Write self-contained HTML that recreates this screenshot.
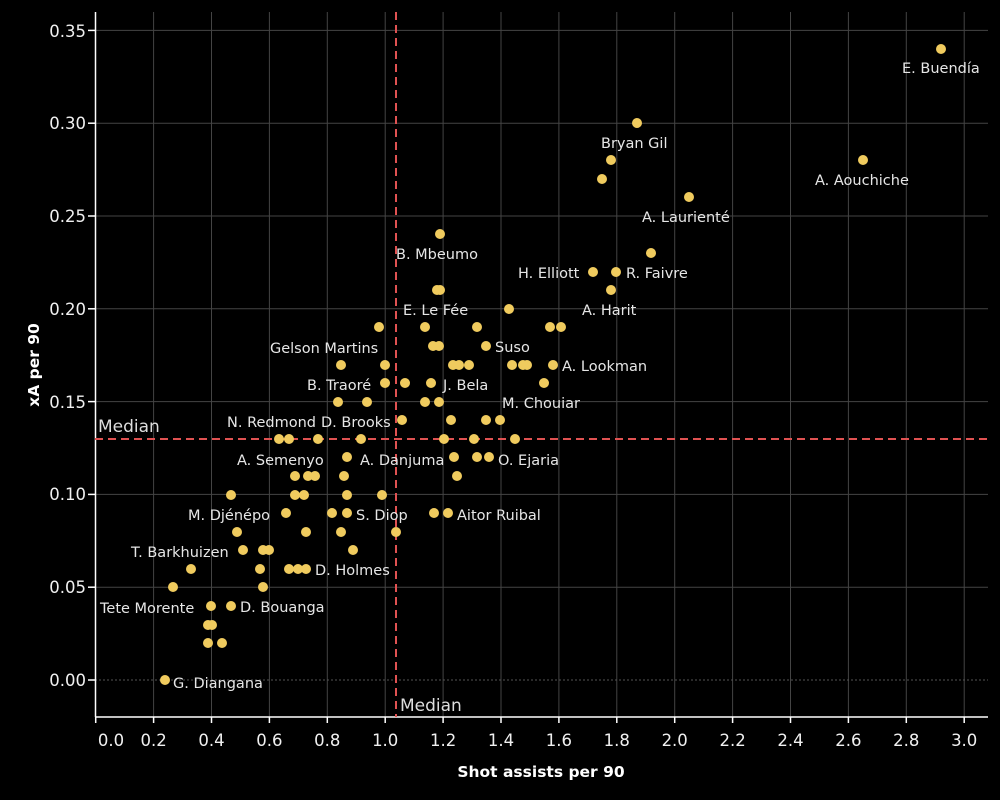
<!DOCTYPE html>
<html><head><meta charset="utf-8"><style>
html,body{margin:0;padding:0;background:#000;}
svg{display:block;font-family:"DejaVu Sans","Liberation Sans",sans-serif;}
.t{fill:#e6e6e6;font-size:14.5px;}
.tk{fill:#f0f0f0;font-size:16.5px;}
</style></head><body>
<svg width="1000" height="800" viewBox="0 0 1000 800" xmlns="http://www.w3.org/2000/svg">
<rect width="1000" height="800" fill="#000"/>
<g stroke="#444" stroke-width="1">
<line x1="153.6" y1="12" x2="153.6" y2="717"/><line x1="211.5" y1="12" x2="211.5" y2="717"/>
<line x1="269.4" y1="12" x2="269.4" y2="717"/><line x1="327.3" y1="12" x2="327.3" y2="717"/>
<line x1="385.2" y1="12" x2="385.2" y2="717"/><line x1="443.1" y1="12" x2="443.1" y2="717"/>
<line x1="501" y1="12" x2="501" y2="717"/><line x1="558.9" y1="12" x2="558.9" y2="717"/>
<line x1="616.8" y1="12" x2="616.8" y2="717"/><line x1="674.7" y1="12" x2="674.7" y2="717"/>
<line x1="732.6" y1="12" x2="732.6" y2="717"/><line x1="790.5" y1="12" x2="790.5" y2="717"/>
<line x1="848.4" y1="12" x2="848.4" y2="717"/><line x1="906.3" y1="12" x2="906.3" y2="717"/>
<line x1="964.2" y1="12" x2="964.2" y2="717"/>
<line x1="95" y1="587.2" x2="988" y2="587.2"/><line x1="95" y1="494.4" x2="988" y2="494.4"/>
<line x1="95" y1="401.6" x2="988" y2="401.6"/><line x1="95" y1="308.8" x2="988" y2="308.8"/>
<line x1="95" y1="216" x2="988" y2="216"/><line x1="95" y1="123.2" x2="988" y2="123.2"/>
<line x1="95" y1="30.4" x2="988" y2="30.4"/>
</g>
<line x1="95" y1="680" x2="988" y2="680" stroke="#555" stroke-dasharray="2,2"/>
<g stroke="#fff" stroke-width="1.5">
<line x1="95.5" y1="12" x2="95.5" y2="717"/><line x1="95" y1="717" x2="988" y2="717"/>
<line x1="88" y1="680" x2="95" y2="680"/><line x1="88" y1="587.2" x2="95" y2="587.2"/><line x1="88" y1="494.4" x2="95" y2="494.4"/><line x1="88" y1="401.6" x2="95" y2="401.6"/><line x1="88" y1="308.8" x2="95" y2="308.8"/><line x1="88" y1="216" x2="95" y2="216"/><line x1="88" y1="123.2" x2="95" y2="123.2"/><line x1="88" y1="30.4" x2="95" y2="30.4"/>
<line x1="95.7" y1="717" x2="95.7" y2="723"/><line x1="153.6" y1="717" x2="153.6" y2="723"/><line x1="211.5" y1="717" x2="211.5" y2="723"/><line x1="269.4" y1="717" x2="269.4" y2="723"/><line x1="327.3" y1="717" x2="327.3" y2="723"/><line x1="385.2" y1="717" x2="385.2" y2="723"/><line x1="443.1" y1="717" x2="443.1" y2="723"/><line x1="501" y1="717" x2="501" y2="723"/><line x1="558.9" y1="717" x2="558.9" y2="723"/><line x1="616.8" y1="717" x2="616.8" y2="723"/><line x1="674.7" y1="717" x2="674.7" y2="723"/><line x1="732.6" y1="717" x2="732.6" y2="723"/><line x1="790.5" y1="717" x2="790.5" y2="723"/><line x1="848.4" y1="717" x2="848.4" y2="723"/><line x1="906.3" y1="717" x2="906.3" y2="723"/><line x1="964.2" y1="717" x2="964.2" y2="723"/>
</g>
<g class="tk" text-anchor="end">
<text x="86" y="686">0.00</text><text x="86" y="593">0.05</text><text x="86" y="500">0.10</text><text x="86" y="408">0.15</text><text x="86" y="315">0.20</text><text x="86" y="222">0.25</text><text x="86" y="129">0.30</text><text x="86" y="37">0.35</text>
</g>
<g class="tk" text-anchor="middle">
<text x="111" y="746">0.0</text><text x="153.6" y="746">0.2</text><text x="211.5" y="746">0.4</text><text x="269.4" y="746">0.6</text><text x="327.3" y="746">0.8</text><text x="385.2" y="746">1.0</text><text x="443.1" y="746">1.2</text><text x="501" y="746">1.4</text><text x="558.9" y="746">1.6</text><text x="616.8" y="746">1.8</text><text x="674.7" y="746">2.0</text><text x="732.6" y="746">2.2</text><text x="790.5" y="746">2.4</text><text x="848.4" y="746">2.6</text><text x="906.3" y="746">2.8</text><text x="964.2" y="746">3.0</text>
</g>
<text x="541" y="777" text-anchor="middle" fill="#fff" font-size="15.5" font-weight="bold">Shot assists per 90</text>
<text transform="translate(39,365) rotate(-90)" text-anchor="middle" fill="#fff" font-size="15.5" font-weight="bold">xA per 90</text>
<g stroke="#e05252" stroke-width="2" stroke-dasharray="8,5">
<line x1="95" y1="439" x2="988" y2="439"/><line x1="396" y1="12" x2="396" y2="717"/>
</g>
<text x="98" y="432" fill="#ddd" font-size="17">Median</text>
<text x="400" y="711" fill="#ddd" font-size="17">Median</text>
<g fill="#f0cb5e">
<circle cx="941" cy="49" r="5"/><circle cx="637" cy="123" r="5"/><circle cx="611" cy="160" r="5"/><circle cx="602" cy="179" r="5"/><circle cx="863" cy="160" r="5"/><circle cx="689" cy="197" r="5"/><circle cx="651" cy="253" r="5"/><circle cx="593" cy="272" r="5"/><circle cx="616" cy="272" r="5"/><circle cx="611" cy="290" r="5"/><circle cx="440" cy="234" r="5"/>
<circle cx="437" cy="290" r="5"/><circle cx="440" cy="290" r="5"/><circle cx="509" cy="309" r="5"/>
<circle cx="379" cy="327" r="5"/><circle cx="425" cy="327" r="5"/><circle cx="477" cy="327" r="5"/><circle cx="550" cy="327" r="5"/><circle cx="561" cy="327" r="5"/>
<circle cx="433" cy="346" r="5"/><circle cx="439" cy="346" r="5"/><circle cx="486" cy="346" r="5"/>
<circle cx="341" cy="365" r="5"/><circle cx="385" cy="365" r="5"/><circle cx="453" cy="365" r="5"/><circle cx="459" cy="365" r="5"/><circle cx="469" cy="365" r="5"/><circle cx="512" cy="365" r="5"/><circle cx="523" cy="365" r="5"/><circle cx="527" cy="365" r="5"/><circle cx="553" cy="365" r="5"/>
<circle cx="385" cy="383" r="5"/><circle cx="405" cy="383" r="5"/><circle cx="431" cy="383" r="5"/><circle cx="544" cy="383" r="5"/>
<circle cx="338" cy="402" r="5"/><circle cx="367" cy="402" r="5"/><circle cx="425" cy="402" r="5"/><circle cx="439" cy="402" r="5"/>
<circle cx="402" cy="420" r="5"/><circle cx="451" cy="420" r="5"/><circle cx="486" cy="420" r="5"/><circle cx="500" cy="420" r="5"/>
<circle cx="279" cy="439" r="5"/><circle cx="289" cy="439" r="5"/><circle cx="318" cy="439" r="5"/><circle cx="361" cy="439" r="5"/><circle cx="444" cy="439" r="5"/><circle cx="474" cy="439" r="5"/><circle cx="515" cy="439" r="5"/>
<circle cx="347" cy="457" r="5"/><circle cx="454" cy="457" r="5"/><circle cx="477" cy="457" r="5"/><circle cx="489" cy="457" r="5"/>
<circle cx="295" cy="476" r="5"/><circle cx="308" cy="476" r="5"/><circle cx="315" cy="476" r="5"/><circle cx="344" cy="476" r="5"/><circle cx="457" cy="476" r="5"/>
<circle cx="231" cy="495" r="5"/><circle cx="295" cy="495" r="5"/><circle cx="304" cy="495" r="5"/><circle cx="347" cy="495" r="5"/><circle cx="382" cy="495" r="5"/>
<circle cx="286" cy="513" r="5"/><circle cx="332" cy="513" r="5"/><circle cx="347" cy="513" r="5"/><circle cx="434" cy="513" r="5"/><circle cx="448" cy="513" r="5"/>
<circle cx="237" cy="532" r="5"/><circle cx="306" cy="532" r="5"/><circle cx="341" cy="532" r="5"/><circle cx="396" cy="532" r="5"/>
<circle cx="243" cy="550" r="5"/><circle cx="263" cy="550" r="5"/><circle cx="269" cy="550" r="5"/><circle cx="353" cy="550" r="5"/>
<circle cx="191" cy="569" r="5"/><circle cx="260" cy="569" r="5"/><circle cx="289" cy="569" r="5"/><circle cx="298" cy="569" r="5"/><circle cx="306" cy="569" r="5"/>
<circle cx="173" cy="587" r="5"/><circle cx="263" cy="587" r="5"/>
<circle cx="211" cy="606" r="5"/><circle cx="231" cy="606" r="5"/>
<circle cx="208" cy="625" r="5"/><circle cx="212" cy="625" r="5"/>
<circle cx="208" cy="643" r="5"/><circle cx="222" cy="643" r="5"/>
<circle cx="165" cy="680" r="5"/>
</g>
<g class="t">
<text x="902" y="73">E. Buendía</text>
<text x="601" y="148">Bryan Gil</text>
<text x="815" y="185">A. Aouchiche</text>
<text x="642" y="222">A. Laurienté</text>
<text x="396" y="259">B. Mbeumo</text>
<text x="518" y="278">H. Elliott</text>
<text x="626" y="278">R. Faivre</text>
<text x="582" y="315">A. Harit</text>
<text x="403" y="315">E. Le Fée</text>
<text x="270" y="353">Gelson Martins</text>
<text x="495" y="352">Suso</text>
<text x="562" y="371">A. Lookman</text>
<text x="307" y="390">B. Traoré</text>
<text x="443" y="390">J. Bela</text>
<text x="502" y="408">M. Chouiar</text>
<text x="227" y="427">N. Redmond</text>
<text x="321" y="427">D. Brooks</text>
<text x="237" y="465">A. Semenyo</text>
<text x="360" y="465">A. Danjuma</text>
<text x="498" y="465">O. Ejaria</text>
<text x="188" y="520">M. Djénépo</text>
<text x="356" y="520">S. Diop</text>
<text x="457" y="520">Aitor Ruibal</text>
<text x="131" y="557">T. Barkhuizen</text>
<text x="315" y="575">D. Holmes</text>
<text x="100" y="613">Tete Morente</text>
<text x="240" y="612">D. Bouanga</text>
<text x="173" y="688">G. Diangana</text>
</g>
</svg>
</body></html>
